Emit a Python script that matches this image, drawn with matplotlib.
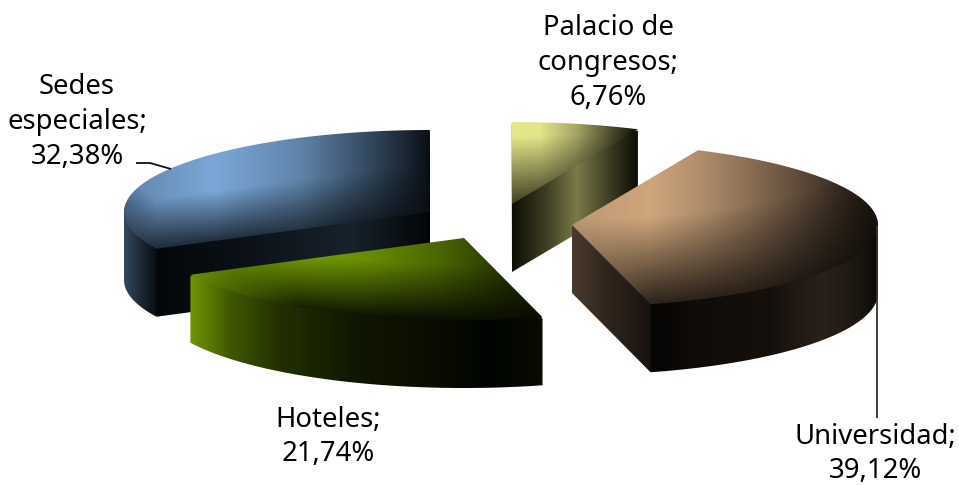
"""
Exploded 3D pie chart drawn from elliptical sectors with gradient fills
"""

import numpy as np
import matplotlib
matplotlib.use('Agg')
import matplotlib.pyplot as plt
from matplotlib.colors import to_rgb
from matplotlib.patches import Polygon

categories = ['Universidad', 'Hoteles', 'Sedes\nespeciales', 'Palacio de\ncongresos']
shares = [39.12, 21.74, 32.38, 6.76]

start_angle = 65.7   # degrees, runs clockwise
rx, ry = 306, 82
depth = 68

# apex of each exploded slice, in image pixels
centers = [(572, 225), (464, 238), (430, 212), (512, 204)]

# gradient stops as (x pixel, colour)
top_stops = [
    [(572, '#bc9872'), (650, '#d0a67c'), (700, '#b08e6c'), (750, '#8a6e54'), (800, '#5e4a3a'), (850, '#2e241c'), (878, '#14100c')],
    [(190, '#6c9400'), (300, '#7aa800'), (370, '#668c00'), (440, '#4a6600'), (500, '#2a3a00'), (543, '#141c00')],
    [(124, '#5f85ad'), (215, '#7ba7d7'), (300, '#5f84aa'), (370, '#33485e'), (430, '#0a0f14')],
    [(512, '#e8e88a'), (540, '#e4e488'), (575, '#a8a866'), (610, '#50502e'), (637, '#101008')],
]
edge_stops = [
    [(572, '#5a4636'), (651, '#2c221a'), (750, '#2a2018'), (820, '#1e1812'), (878, '#141009')],
    [(190, '#6c9400'), (230, '#4a6600'), (300, '#182000'), (400, '#0c1000'), (543, '#0a0e00')],
    [(124, '#3c536b'), (157, '#1e2b3a'), (300, '#243444'), (430, '#0a0f14')],
    [(512, '#2c2c18'), (637, '#101008')],
]
wall_stops = [
    [(572, '#4a3a2c'), (610, '#2e241c'), (650, '#181210'), (652, '#060504'), (700, '#100c08'), (770, '#15100c'), (825, '#2a201a'), (860, '#1a1510'), (878, '#0a0806')],
    [(190, '#6f9800'), (230, '#405800'), (280, '#223000'), (360, '#101600'), (430, '#0a0e00'), (490, '#000400'), (543, '#0a0c00')],
    [(124, '#34485c'), (155, '#0a1016'), (157, '#04070a'), (250, '#0c1218'), (350, '#18222c'), (430, '#030507')],
    [(512, '#0d0d06'), (545, '#3c3c22'), (577, '#7a7a4a'), (610, '#3c3c22'), (637, '#0e0e06')],
]
# how far above the front rim the shading reaches, and the rim it follows
shade_heights = [88, 55, 50, 76]
shade_centers = [(572, 225), (464, 238), (430, 212), (512, 130)]
shade_on_cut = [False, False, True, False]

label_pos = [(875, 454), (328, 437), (77, 122), (608, 63)]
draw_order = [2, 3, 0, 1]


def ramp(x, stops):
    """Colour at each x from a list of (x, colour) stops -> array (n, 3)"""
    px = [s[0] for s in stops]
    rgb = np.array([to_rgb(s[1]) for s in stops])
    return np.stack([np.interp(x, px, rgb[:, i]) for i in range(3)], axis=-1)


def hull(pts):
    """Convex hull of a point array, monotone chain"""
    pts = sorted(set(map(tuple, np.round(pts, 3))))

    def half(seq):
        out = []
        for p in seq:
            while len(out) > 1 and ((out[-1][0] - out[-2][0]) * (p[1] - out[-2][1])
                                    - (out[-1][1] - out[-2][1]) * (p[0] - out[-2][0])) <= 0:
                out.pop()
            out.append(p)
        return out[:-1]

    return np.array(half(pts) + half(pts[::-1]))


def fill_gradient(ax, poly, image, x0, y0):
    h, w = image.shape[:2]
    im = ax.imshow(image, extent=(x0, x0 + w, y0 + h, y0), aspect='auto',
                   interpolation='bilinear', origin='upper')
    im.set_clip_path(Polygon(poly, transform=ax.transData))


fig = plt.figure(figsize=(9.59, 4.86), dpi=100)
ax = fig.add_axes([0, 0, 1, 1])
plt.rcParams['font.family'] = ['Noto Sans', 'DejaVu Sans']

# slice angles follow the shares
edges = start_angle - np.cumsum([0] + shares) * 3.6

for i in draw_order:
    cx, cy = centers[i]
    theta = np.radians(np.linspace(edges[i], edges[i + 1], 200))
    arc = np.column_stack([cx + rx * np.cos(theta), cy - ry * np.sin(theta)])
    top = np.vstack([[cx, cy], arc])

    # side walls: swept outline of the top face
    outline = hull(np.vstack([top + [0, 1.5], top + [0, depth]]))
    x0, x1 = int(top[:, 0].min()) - 2, int(top[:, 0].max()) + 3
    y0, y1 = int(top[:, 1].min()) - 2, int(top[:, 1].max()) + depth + 3
    xs = np.arange(x0, x1) + 0.5
    ys = np.arange(y0, y1) + 0.5
    wall = np.repeat(ramp(xs, wall_stops[i])[None, :, :], len(ys), axis=0)
    fill_gradient(ax, outline, wall, x0, y0)

    # top face: blends from rim colour to the lit colour going away from the rim
    gx, gy = np.meshgrid(xs, ys)
    sx, sy = shade_centers[i]
    u = np.clip((gx - sx) / rx, -1, 1)
    rim = sy + ry * np.sqrt(1 - u ** 2)
    if shade_on_cut[i]:
        slope = (arc[0, 1] - cy) / (arc[0, 0] - cx)
        rim = np.minimum(rim, cy + slope * (gx - cx))
    t = np.clip((rim - gy) / shade_heights[i], 0, 1)[..., None]
    face = ramp(xs, edge_stops[i])[None, :, :] * (1 - t) + ramp(xs, top_stops[i])[None, :, :] * t
    fill_gradient(ax, top, face, x0, y0)

# leader lines
ax.plot([136, 150, 171], [163, 163, 169], color='#111111', lw=1.3, solid_capstyle='butt')
ax.plot([877, 877], [225, 418], color='#333333', lw=1.3, solid_capstyle='butt')

for cat, val, (lx, ly) in zip(categories, shares, label_pos):
    ax.text(lx, ly, f"{cat};\n{val:.2f}%".replace('.', ','), ha='center', va='center',
            fontsize=19.8, color='black', linespacing=1.33)

ax.set_xlim(0, 959)
ax.set_ylim(486, 0)
ax.axis('off')

plt.savefig('out.png', dpi=100, facecolor='white')
plt.close(fig)
